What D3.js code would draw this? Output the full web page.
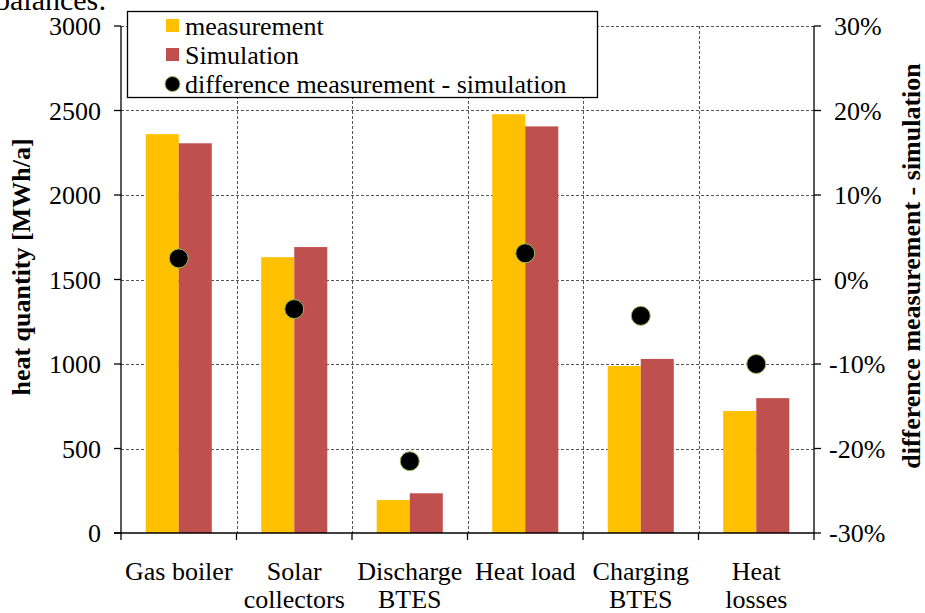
<!DOCTYPE html>
<html>
<head>
<meta charset="utf-8">
<script src="https://cdn.jsdelivr.net/npm/d3@7"></script>
<style>
  html, body { margin: 0; padding: 0; background: #fff; }
  svg { display: block; font-family: "Liberation Serif", "Times New Roman", serif; }
</style>
</head>
<body>
<svg id="chart" width="925" height="613"></svg>
<script>
// Annual heat balance: measured vs simulated heat quantities, with relative difference
const categories = [["Gas boiler"], ["Solar", "collectors"], ["Discharge", "BTES"], ["Heat load"], ["Charging", "BTES"], ["Heat", "losses"]];
const measurement = [2360, 1632, 195, 2478, 988, 722];
const simulation = [2306, 1692, 235, 2406, 1030, 798];
const difference = [0.025, -0.035, -0.215, 0.031, -0.043, -0.10];
const leftTicks = [0, 500, 1000, 1500, 2000, 2500, 3000];
const rightTicks = [-0.3, -0.2, -0.1, 0, 0.1, 0.2, 0.3];
const seriesNames = ["measurement", "Simulation", "difference measurement - simulation"];

const colMeas = "#FFC000", colSim = "#C0504D";
const svg = d3.select("#chart");
const m = { left: 121, right: 814, top: 26, bottom: 533 };

const x = d3.scaleBand().domain(d3.range(categories.length)).range([m.left, m.right]).padding(0);
const yL = d3.scaleLinear().domain([0, 3000]).range([m.bottom, m.top]);
const yR = d3.scaleLinear().domain([-0.3, 0.3]).range([m.bottom, m.top]);
const groupFrac = 0.572;
const barW = x.bandwidth() * groupFrac / 2;
const pct = d => Math.round(d * 100) + "%";

// text fragment above the chart
svg.append("text").attr("x", -5).attr("y", 10).attr("font-size", 30).text("balances:");

// gridlines
const grid = svg.append("g").attr("stroke", "#555").attr("stroke-width", 1).attr("stroke-dasharray", "3,2");
leftTicks.filter(t => t > 0).forEach(t => {
  grid.append("line").attr("x1", m.left).attr("x2", m.right)
    .attr("y1", Math.round(yL(t)) + 0.5).attr("y2", Math.round(yL(t)) + 0.5);
});
d3.range(1, categories.length).forEach(i => {
  const xx = Math.round(x(i)) + 0.5;
  grid.append("line").attr("x1", xx).attr("x2", xx).attr("y1", m.top).attr("y2", m.bottom);
});

// bars
const bars = svg.append("g");
categories.forEach((c, i) => {
  const cx = x(i) + x.bandwidth() / 2;
  bars.append("rect").attr("x", cx - barW).attr("width", barW)
    .attr("y", yL(measurement[i])).attr("height", yL(0) - yL(measurement[i])).attr("fill", colMeas);
  bars.append("rect").attr("x", cx).attr("width", barW)
    .attr("y", yL(simulation[i])).attr("height", yL(0) - yL(simulation[i])).attr("fill", colSim);
});

// difference markers
svg.append("g").selectAll("circle").data(difference).join("circle")
  .attr("cx", (d, i) => x(i) + x.bandwidth() / 2)
  .attr("cy", d => yR(d))
  .attr("r", 9.5).attr("fill", "#000").attr("stroke", "#9BBB59").attr("stroke-width", 1);

// left axis
const axL = svg.append("g").attr("stroke", "#000").attr("stroke-width", 1.3);
axL.append("line").attr("x1", m.left).attr("x2", m.left).attr("y1", m.top).attr("y2", m.bottom);
leftTicks.forEach(t => {
  axL.append("line").attr("x1", m.left - 7).attr("x2", m.left).attr("y1", yL(t)).attr("y2", yL(t));
});
svg.append("g").selectAll("text").data(leftTicks).join("text")
  .attr("x", 101).attr("y", d => yL(d)).attr("dy", "0.35em")
  .attr("text-anchor", "end").attr("font-size", 26).text(d => d);

// right axis
const axR = svg.append("g").attr("stroke", "#000").attr("stroke-width", 1.3);
axR.append("line").attr("x1", m.right).attr("x2", m.right).attr("y1", m.top).attr("y2", m.bottom);
rightTicks.forEach(t => {
  axR.append("line").attr("x1", m.right).attr("x2", m.right + 7).attr("y1", yR(t)).attr("y2", yR(t));
});
svg.append("g").selectAll("text").data(rightTicks).join("text")
  .attr("x", d => d < 0 ? 829 : 834).attr("y", d => yR(d)).attr("dy", "0.35em")
  .attr("font-size", 26).text(pct);

// bottom axis
const axB = svg.append("g").attr("stroke", "#000").attr("stroke-width", 1.3);
axB.append("line").attr("x1", m.left - 7).attr("x2", m.right).attr("y1", m.bottom).attr("y2", m.bottom);
d3.range(categories.length + 1).forEach(i => {
  const xx = i < categories.length ? x(i) : m.right;
  axB.append("line").attr("x1", xx).attr("x2", xx).attr("y1", m.bottom).attr("y2", m.bottom + 7);
});
categories.forEach((lines, i) => {
  const cx = x(i) + x.bandwidth() / 2;
  const t = svg.append("text").attr("text-anchor", "middle").attr("font-size", 26);
  lines.forEach((ln, k) => t.append("tspan").attr("x", cx).attr("y", 580 + k * 28).text(ln));
});

// axis titles
svg.append("text").attr("transform", "translate(30,267) rotate(-90)")
  .attr("text-anchor", "middle").attr("font-size", 26).attr("font-weight", "bold")
  .text("heat quantity [MWh/a]");
svg.append("text").attr("transform", "translate(920,266) rotate(-90)")
  .attr("text-anchor", "middle").attr("font-size", 26).attr("font-weight", "bold")
  .text("difference measurement - simulation");

// legend
const lg = svg.append("g");
lg.append("rect").attr("x", 127.5).attr("y", 11.5).attr("width", 470).attr("height", 86)
  .attr("fill", "#fff").attr("stroke", "#000").attr("stroke-width", 1.3);
const rowsY = [26, 55, 84];
lg.append("rect").attr("x", 166).attr("y", rowsY[0] - 7).attr("width", 13).attr("height", 13).attr("fill", colMeas);
lg.append("rect").attr("x", 166).attr("y", rowsY[1] - 7).attr("width", 13).attr("height", 13).attr("fill", colSim);
lg.append("circle").attr("cx", 172.5).attr("cy", rowsY[2]).attr("r", 7.5)
  .attr("fill", "#000").attr("stroke", "#9BBB59").attr("stroke-width", 1);
seriesNames.forEach((s, k) => {
  lg.append("text").attr("x", 185).attr("y", rowsY[k]).attr("dy", "0.35em").attr("font-size", 26).text(s);
});
</script>
</body>
</html>
